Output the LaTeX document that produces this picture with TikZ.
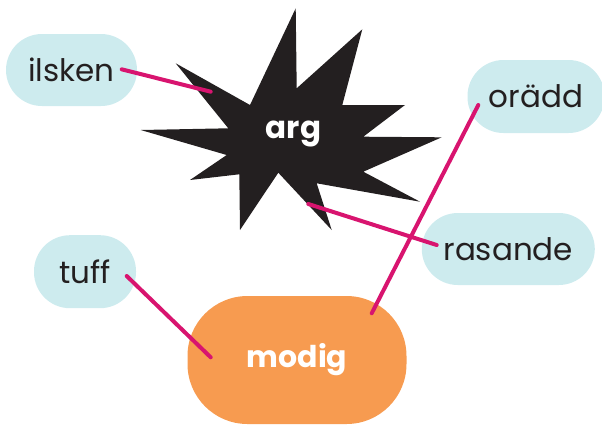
\documentclass[tikz,border=0pt]{standalone}
\usepackage{fontspec}
\setmainfont{Poppins}
\definecolor{paleblue}{HTML}{CDEBEE}
\definecolor{modigorange}{HTML}{F79B50}
\definecolor{linkpink}{HTML}{D8146F}
\definecolor{inkblack}{HTML}{231F20}

\tikzstyle{word} = [fill=paleblue,text=inkblack,rounded corners=36pt,minimum height=72pt,inner sep=0pt,font=\fontsize{31}{34}\selectfont]
\tikzstyle{link} = [draw=linkpink,line width=4pt,line cap=round]

\begin{document}
\begin{tikzpicture}[x=1pt,y=-1pt]
	\useasboundingbox (0,0) rectangle (602,424);
	
	\fill[inkblack] (295.7,8.3) -- (296.7,88.3) -- (362.3,29.3) -- (342.3,105) -- (405,105) -- (363.3,136.7) -- (441.7,137.3) -- (363.3,171.7) -- (420,201.7) -- (316.7,183.3) -- (331.7,230) -- (278.3,172.7) -- (240,230) -- (239.3,174.3) -- (190,180) -- (226.7,155) -- (140.7,130) -- (228.3,128.3) -- (175.7,63.3) -- (250,105) -- cycle;
	\node[text=white,font=\fontsize{31}{34}\selectfont\bfseries] (arg) at (293.5,134) {arg};
	
	\node[word,minimum width=131pt] (ilsken) at (71.5,70) {ilsken};
	\node[word,minimum width=137pt,minimum height=73pt] (oradd) at (536,96.5) {orädd};
	\node[word,minimum width=173pt] (rasande) at (508.3,249) {rasande};
	\node[word,minimum width=102pt,minimum height=73pt] (tuff) at (85,271.7) {tuff};
	\node[fill=modigorange,text=white,rounded corners=60pt,minimum width=219pt,minimum height=128pt,inner sep=0pt,font=\fontsize{30}{33}\selectfont\bfseries] (modig) at (297,360) {modig};
	
	\coordinate (c1) at (121.7,69.3);
	\coordinate (c2) at (210.7,91.7);
	\coordinate (c3) at (478.3,105);
	\coordinate (c4) at (371.7,313.3);
	\coordinate (c5) at (436.7,245);
	\coordinate (c6) at (308.3,204);
	\coordinate (c7) at (126.7,276);
	\coordinate (c8) at (210.7,357.3);
	
	\draw[link] (c1) -- (c2);
	\draw[link] (c3) -- (c4);
	\draw[link] (c5) -- (c6);
	\draw[link] (c7) -- (c8);
\end{tikzpicture}
\end{document}
